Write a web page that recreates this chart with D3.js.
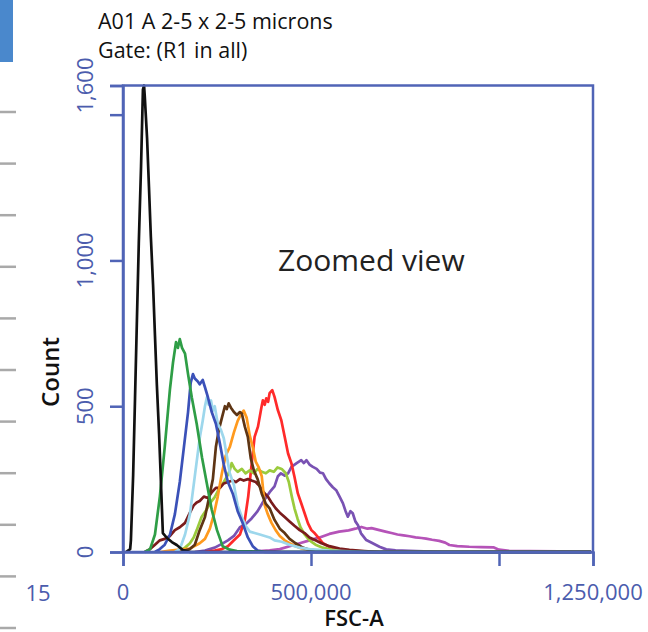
<!DOCTYPE html>
<html lang="en">
<head>
  <meta charset="UTF-8">
  <title>FSC-A histogram</title>
  <script src="https://d3js.org/d3.v7.min.js"></script>
  <style>
    body {
      margin: 0;
      background: #fff;
      font-family: "Open Sans", "Noto Sans", sans-serif;
    }
    svg { display: block; }
  </style>
</head>
<body>
  <div id="chart"></div>

  <script>
    // title lines
    const titleLines = ["A01 A 2-5 x 2-5 microns", "Gate: (R1 in all)"];

    // axis ticks
    const xTicks = [0, 500000, 1000000, 1250000];
    const xTickLabels = ["0", "500,000", "", "1,250,000"];
    const yTicks = [0, 500, 1000, 1500, 1600];
    const yTickLabels = ["0", "500", "1,000", "", "1,600"];

    // histogram series, [FSC-A in thousands, count]
    const blackPts = [[8,0],[19,10],[21,40],[27,264],[32,528],[37,795],[42,1059],[48,1322],[53,1586],[56,1600],[58,1560],[64,1420],[69,1254],[74,1083],[80,915],[85,743],[90,575],[96,404],[101,236],[106,65],[117,48],[130,34],[143,24],[159,7],[178,0],[1245,0]];
    const greenPts = [[58,0],[72,10],[85,60],[98,190],[111,360],[125,560],[133,650],[141,720],[146,700],[151,730],[157,700],[165,680],[173,610],[183,530],[196,440],[210,325],[223,235],[236,145],[250,75],[265,20],[284,8],[303,3],[340,2],[400,0],[1245,0]];
    const bluePts = [[85,0],[98,10],[111,25],[125,60],[138,130],[151,240],[162,360],[173,480],[180,580],[186,610],[191,595],[199,585],[204,575],[212,590],[218,565],[226,530],[236,480],[247,440],[258,370],[268,300],[279,240],[292,200],[305,140],[318,100],[332,50],[345,20],[358,5],[377,0],[1245,0]];
    const lightBluePts = [[138,0],[151,10],[165,60],[178,130],[191,260],[204,390],[212,450],[218,500],[223,530],[228,505],[234,520],[239,485],[244,500],[252,440],[260,420],[268,390],[276,330],[284,270],[295,230],[305,160],[316,120],[326,90],[337,70],[350,65],[364,60],[377,55],[390,50],[403,40],[422,35],[443,25],[470,15],[496,10],[549,5],[602,2],[650,0],[1245,0]];
    const brownPts = [[151,0],[178,10],[191,25],[204,75],[218,120],[231,200],[239,250],[247,360],[255,420],[263,460],[271,500],[276,490],[281,510],[287,495],[295,480],[303,470],[311,480],[316,475],[324,430],[332,395],[340,320],[348,280],[358,250],[369,200],[380,165],[390,150],[403,110],[417,80],[430,65],[443,45],[459,30],[478,15],[496,8],[523,3],[563,0],[1245,0]];
    const orangePts = [[98,0],[125,5],[151,8],[178,12],[204,30],[218,45],[231,80],[242,130],[252,190],[263,270],[273,330],[284,360],[295,410],[305,450],[313,470],[321,485],[329,460],[337,400],[345,360],[353,310],[361,290],[369,260],[377,160],[385,130],[395,100],[406,75],[417,55],[430,40],[443,30],[459,20],[475,12],[496,6],[523,3],[563,0],[1245,0]];
    const maroonPts = [[58,0],[72,10],[85,25],[98,40],[111,45],[125,55],[138,75],[151,85],[165,100],[178,135],[188,160],[196,170],[204,175],[215,190],[226,185],[236,205],[247,220],[258,220],[268,235],[279,240],[292,245],[300,240],[311,250],[321,245],[332,250],[342,245],[353,240],[364,225],[374,205],[385,190],[395,170],[406,150],[417,135],[430,120],[443,105],[456,90],[470,75],[483,65],[496,50],[512,40],[528,30],[549,20],[576,12],[602,7],[642,3],[682,0],[1245,0]];
    const lightGreenPts = [[138,0],[151,5],[165,15],[178,30],[188,50],[196,75],[209,120],[222,145],[233,170],[244,188],[258,223],[268,240],[276,257],[284,280],[289,305],[297,285],[305,275],[316,285],[326,270],[337,280],[348,270],[358,285],[369,275],[380,270],[390,280],[401,275],[411,290],[422,285],[433,270],[441,240],[449,190],[456,150],[464,115],[472,85],[483,60],[496,40],[512,25],[531,15],[555,8],[589,4],[629,2],[682,0],[1245,0]];
    const redPts = [[218,0],[244,5],[263,10],[279,20],[295,40],[311,60],[324,110],[333,190],[342,300],[350,395],[359,430],[368,495],[372,520],[377,505],[381,527],[386,515],[390,545],[397,555],[403,532],[412,486],[421,452],[430,395],[439,338],[448,304],[456,258],[465,201],[474,167],[483,133],[492,98],[501,75],[510,64],[518,52],[532,30],[548,18],[565,10],[590,5],[630,2],[682,0],[1245,0]];
    const purplePts = [[191,0],[218,5],[244,15],[263,28],[279,40],[295,55],[311,85],[326,95],[342,115],[358,140],[374,175],[390,205],[403,225],[412,260],[420,270],[430,262],[439,270],[448,292],[461,304],[474,315],[481,305],[488,315],[496,300],[505,292],[515,285],[524,272],[532,270],[540,250],[549,235],[558,222],[567,212],[576,190],[585,167],[592,140],[598,121],[605,140],[611,133],[618,105],[625,92],[633,64],[647,41],[664,30],[682,18],[700,9],[725,6],[760,4],[800,2],[850,0],[1245,0]];
    const magentaPts = [[337,0],[364,3],[390,6],[417,10],[443,20],[470,30],[496,40],[523,50],[549,62],[575,70],[600,74],[618,80],[634,86],[650,80],[661,82],[682,75],[698,70],[714,65],[730,60],[746,57],[762,54],[778,50],[794,48],[806,46],[822,42],[841,38],[857,32],[868,24],[889,20],[921,18],[953,17],[985,16],[1000,8],[1027,4],[1080,3],[1160,2],[1245,1]];

    // drawing order, back to front
    const series = [
      {name: "magenta", pts: magentaPts, color: "#b553b8"},
      {name: "purple", pts: purplePts, color: "#7952b3"},
      {name: "red", pts: redPts, color: "#ff2a2a"},
      {name: "lightgreen", pts: lightGreenPts, color: "#9bcb3d"},
      {name: "maroon", pts: maroonPts, color: "#7a1c1c"},
      {name: "orange", pts: orangePts, color: "#ff9a1e"},
      {name: "brown", pts: brownPts, color: "#5e3514"},
      {name: "lightblue", pts: lightBluePts, color: "#9dd7ec"},
      {name: "blue", pts: bluePts, color: "#3b51b8"},
      {name: "green", pts: greenPts, color: "#2f9e46"},
      {name: "black", pts: blackPts, color: "#111111"}
    ];

    const W = 648, H = 632;
    const plot = {left: 123, right: 593, top: 85.5, bottom: 552};
    const axisColor = "#5064b6";
    const labelColor = "#4b5cad";

    const svg = d3.select("#chart")
                  .append("svg")
                  .attr("width", W)
                  .attr("height", H);

    // bits of the neighbouring panel at the left edge
    svg.append("rect")
       .attr("x", 0).attr("y", 0)
       .attr("width", 13).attr("height", 62)
       .attr("fill", "#4a88cc");
    svg.selectAll(".nb-tick")
       .data(d3.range(11))
       .enter()
       .append("line")
       .attr("class", "nb-tick")
       .attr("x1", 0).attr("x2", 16)
       .attr("y1", i => 112 + i * 51.6)
       .attr("y2", i => 112 + i * 51.6)
       .attr("stroke", "#a9a9a9")
       .attr("stroke-width", 2.5);
    svg.append("text")
       .attr("x", 38).attr("y", 601)
       .attr("text-anchor", "middle")
       .style("font-size", "22px")
       .style("fill", labelColor)
       .text("15");

    const x = d3.scaleLinear()
                .domain([0, 1250000])
                .range([plot.left, plot.right]);

    const y = d3.scaleLinear()
                .domain([0, 1600])
                .range([plot.bottom, plot.top]);

    // title
    svg.selectAll(".title")
       .data(titleLines)
       .enter()
       .append("text")
       .attr("class", "title")
       .attr("x", 98)
       .attr("y", (d, i) => 29 + i * 29)
       .style("font-size", "21.5px")
       .style("font-weight", 500)
       .style("fill", "#111")
       .text(d => d);

    // histogram lines
    const line = d3.line()
                   .x(d => x(d[0] * 1000))
                   .y(d => y(d[1]));

    svg.selectAll(".hist")
       .data(series)
       .enter()
       .append("path")
       .attr("class", "hist")
       .attr("d", d => line(d.pts))
       .attr("fill", "none")
       .attr("stroke", d => d.color)
       .attr("stroke-width", 2.7)
       .attr("stroke-linejoin", "round");

    // frame
    svg.append("rect")
       .attr("x", plot.left).attr("y", plot.top)
       .attr("width", plot.right - plot.left)
       .attr("height", plot.bottom - plot.top)
       .attr("fill", "none")
       .attr("stroke", axisColor)
       .attr("stroke-width", 2.5);

    // axes
    const yAxis = svg.append("g")
       .attr("transform", `translate(${plot.left},0)`)
       .call(d3.axisLeft(y).tickValues(yTicks).tickSize(13).tickFormat(""));

    const xAxis = svg.append("g")
       .attr("transform", `translate(0,${plot.bottom})`)
       .call(d3.axisBottom(x).tickValues(xTicks).tickSize(14).tickFormat(""));

    [yAxis, xAxis].forEach(g => {
      g.select(".domain").attr("stroke", axisColor).attr("stroke-width", 2.5);
      g.selectAll(".tick line").attr("stroke", axisColor).attr("stroke-width", 2.5);
    });

    // tick labels
    svg.selectAll(".ylab")
       .data(yTicks)
       .enter()
       .append("text")
       .attr("class", "ylab")
       .attr("transform", d => `translate(93,${y(d)}) rotate(-90)`)
       .attr("text-anchor", "middle")
       .style("font-size", "22px")
       .style("fill", labelColor)
       .text((d, i) => yTickLabels[i]);

    svg.selectAll(".xlab")
       .data(xTicks)
       .enter()
       .append("text")
       .attr("class", "xlab")
       .attr("x", d => x(d))
       .attr("y", 600)
       .attr("text-anchor", "middle")
       .style("font-size", "22px")
       .style("fill", labelColor)
       .text((d, i) => xTickLabels[i]);

    // axis titles
    svg.append("text")
       .attr("x", 354).attr("y", 626)
       .attr("text-anchor", "middle")
       .style("font-size", "22px")
       .style("font-weight", 600)
       .style("fill", "#111")
       .text("FSC-A");

    svg.append("text")
       .attr("transform", "translate(59,372) rotate(-90)")
       .attr("text-anchor", "middle")
       .style("font-size", "24px")
       .style("font-weight", 600)
       .style("fill", "#111")
       .text("Count");

    svg.append("text")
       .attr("x", 278).attr("y", 271)
       .style("font-size", "30px")
       .style("fill", "#222")
       .text("Zoomed view");
  </script>
</body>
</html>
